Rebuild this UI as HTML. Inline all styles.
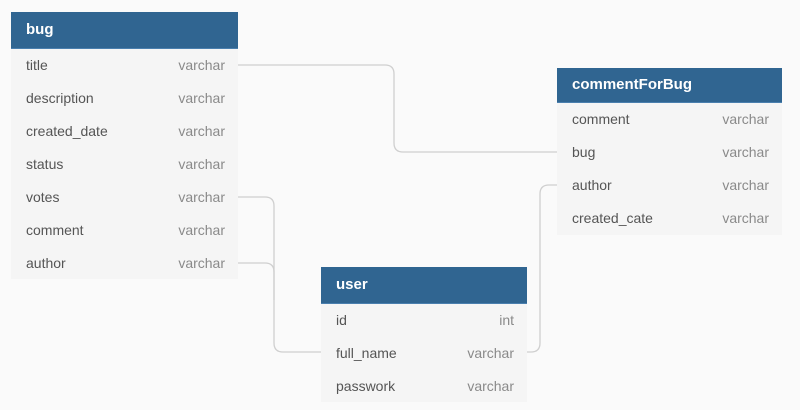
<!DOCTYPE html>
<html><head><meta charset="utf-8"><style>
body{margin:0;width:800px;height:410px;background:#fafafa;font-family:"Liberation Sans","DejaVu Sans",sans-serif;position:relative;overflow:hidden}
.t{position:absolute;background:#f5f5f5}
.h{height:36px;background:#306591;border-bottom:1px solid #4a7fae;color:#fff;font-weight:bold;font-size:15px;line-height:36px;padding-left:15px}
.r{height:33px;line-height:33px;font-size:14px;color:#555;padding:0 13px 0 15px;position:relative}
.r span{position:absolute;right:13px;color:#8a8a8a}
svg{position:absolute;left:0;top:0}
</style></head><body>
<svg width="800" height="410"><g fill="none" stroke="#cfcfcf" stroke-width="1.3">
<path d="M238 65 H385 Q394 65 394 74 V143 Q394 152 403 152 H557"/>
<path d="M238 197 H265 Q274 197 274 206 V343 Q274 352 283 352 H321"/>
<path d="M238 263 H265 Q274 263 274 272 V300"/>
<path d="M527 352 H531 Q540 352 540 343 V194 Q540 185 549 185 H557"/>
</g></svg>
<div class="t" style="left:11px;top:12px;width:227px;height:267px">
<div class="h">bug</div>
<div class="r">title<span>varchar</span></div>
<div class="r">description<span>varchar</span></div>
<div class="r">created_date<span>varchar</span></div>
<div class="r">status<span>varchar</span></div>
<div class="r">votes<span>varchar</span></div>
<div class="r">comment<span>varchar</span></div>
<div class="r">author<span>varchar</span></div>
</div>
<div class="t" style="left:557px;top:68px;width:225px;height:167px">
<div class="h" style="height:34px;line-height:34px">commentForBug</div>
<div class="r">comment<span>varchar</span></div>
<div class="r">bug<span>varchar</span></div>
<div class="r">author<span>varchar</span></div>
<div class="r">created_cate<span>varchar</span></div>
</div>
<div class="t" style="left:321px;top:267px;width:206px;height:135px">
<div class="h">user</div>
<div class="r">id<span>int</span></div>
<div class="r">full_name<span>varchar</span></div>
<div class="r">passwork<span>varchar</span></div>
</div>
</body></html>
